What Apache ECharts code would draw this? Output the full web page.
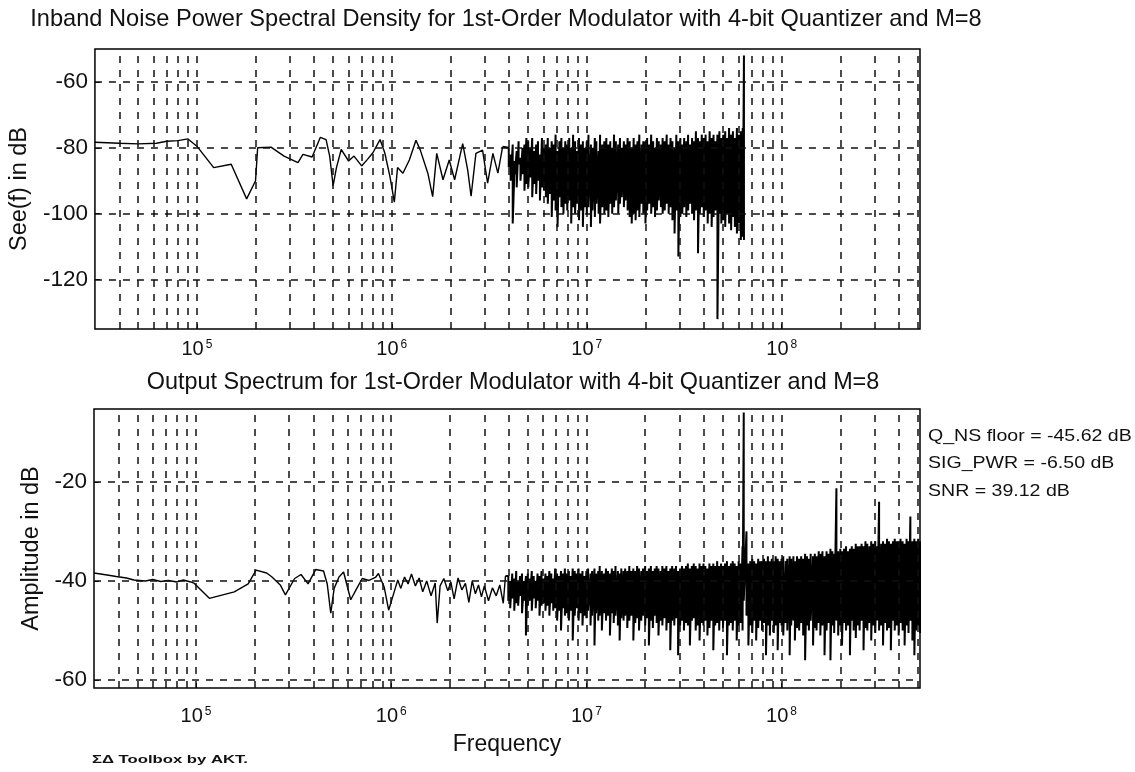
<!DOCTYPE html>
<html>
<head>
<meta charset="utf-8">
<title>Sigma-Delta spectra</title>
<script src="https://cdn.jsdelivr.net/npm/echarts@6/dist/echarts.min.js"></script>
<style>
  html, body { margin: 0; padding: 0; background: #fff; }
  #main { width: 1135px; height: 772px; }
</style>
</head>
<body>
<div id="main"></div>
<script>
// ---- data ----
// low-frequency part of the inband PSD (Hz, dB)
const topSparseHz = [3.0e4,4.0e4,5.0e4,6.2e4,7.0e4,8.0e4,9.0e4,1.0e5,1.22e5,1.5e5,1.8e5,2.0e5,2.05e5,2.4e5,2.8e5,3.3e5,3.5e5,3.9e5,4.3e5,4.6e5,4.8e5,5.0e5,5.2e5,5.5e5,6.0e5,6.4e5,7.0e5,7.5e5,8.0e5,8.7e5,9.2e5,9.8e5,1.03e6,1.07e6,1.14e6,1.23e6,1.33e6,1.4e6,1.53e6,1.62e6,1.7e6,1.83e6,1.97e6,2.1e6,2.31e6,2.45e6,2.55e6,2.7e6,2.92e6,3.1e6,3.3e6,3.5e6,3.7e6]
const topSparseDb = [-78.3,-78.6,-78.8,-78.6,-78.0,-77.8,-77.3,-79.5,-86,-85,-95.5,-90,-80,-79.8,-82.5,-84.5,-82,-82.8,-76.8,-77.5,-82.5,-91.5,-86,-80.5,-84,-82.5,-85.5,-83.5,-81.5,-77.5,-81.5,-89,-96.5,-86,-87.7,-83.7,-77.7,-80.7,-87.7,-94.8,-81.7,-89.7,-83.7,-89.7,-78.7,-86.7,-94.7,-81.7,-80.7,-90.7,-81.7,-87.7,-79.7]

// low-frequency part of the output spectrum (Hz, dB)
const botSparseHz = [3.0e4,3.5e4,3.9e4,4.4e4,4.8e4,5.5e4,6.0e4,6.6e4,7.2e4,8.0e4,8.6e4,9.4e4,9.8e4,1.17e5,1.57e5,1.85e5,2.03e5,2.3e5,2.45e5,2.7e5,2.87e5,3.2e5,3.45e5,3.75e5,4.1e5,4.5e5,4.7e5,4.9e5,5.1e5,5.4e5,5.7e5,6.2e5,6.6e5,7.1e5,7.7e5,8.3e5,8.6e5,9.2e5,9.7e5,1.03e6,1.08e6,1.12e6,1.17e6,1.22e6,1.27e6,1.33e6,1.39e6,1.45e6,1.52e6,1.6e6,1.68e6,1.72e6,1.78e6,1.86e6,1.95e6,2.02e6,2.1e6,2.2e6,2.3e6,2.4e6,2.5e6,2.6e6,2.7e6,2.8e6,2.9e6,3.0e6,3.15e6,3.3e6,3.45e6,3.6e6,3.75e6,3.85e6]
const botSparseDb = [-38.4,-38.8,-39.1,-39.4,-39.8,-40.0,-39.7,-40.1,-39.9,-40.2,-39.8,-40.2,-40.5,-43.5,-42.2,-40.6,-37.8,-38.4,-39.2,-40.8,-42.8,-39.5,-38.7,-40.6,-37.7,-38.0,-40.6,-46.5,-41.5,-39.2,-38.2,-43.8,-41.8,-39.5,-39.9,-39.3,-38.5,-41.2,-45.9,-42.5,-39.8,-41.5,-39.2,-40.6,-38.6,-41.0,-39.4,-42.2,-40.0,-43.0,-40.4,-48.5,-41.0,-39.5,-42.0,-40.2,-43.6,-39.4,-41.8,-40.5,-44.3,-40.0,-42.6,-40.8,-43.2,-41.0,-44.0,-41.4,-43.0,-40.8,-44.5,-39.0]

// dense part: frequency bins (MHz) with the high / low excursion at each bin
const fineMHz = [
  3.98,4.07,4.17,4.27,4.37,4.47,4.57,4.68,4.79,4.90,
  5.01,5.13,5.25,5.37,5.50,5.62,5.75,5.89,6.03,6.17,
  6.31,6.46,6.61,6.76,6.92,7.08,7.24,7.41,7.59,7.76,
  7.94,8.13,8.32,8.51,8.71,8.91,9.12,9.33,9.55,9.77,
  10.0,10.2,10.5,10.7,11.0,11.2,11.5,11.7,12.0,12.3,
  12.6,12.9,13.2,13.5,13.8,14.1,14.5,14.8,15.1,15.5,
  15.8,16.2,16.6,17.0,17.4,17.8,18.2,18.6,19.1,19.5,
  20.0,20.4,20.9,21.4,21.9,22.4,22.9,23.4,24.0,24.5,
  25.1,25.7,26.3,26.9,27.5,28.2,28.8,29.5,30.2,30.9,
  31.6,32.4,33.1,33.9,34.7,35.5,36.3,37.2,38.0,38.9,
  39.8,40.7,41.7,42.7,43.7,44.7,45.7,46.8,47.9,49.0,
  50.1,51.3,52.5,53.7,55.0,56.2,57.5,58.9,60.3,61.7,
  63.1,64.0,66.1,67.6,69.2,70.8,72.4,74.1,75.9,77.6,
  79.4,81.3,83.2,85.1,87.1,89.1,91.2,93.3,95.5,97.7,
  100,102,105,107,110,112,115,117,120,123,
  126,129,132,135,138,141,145,148,151,155,
  158,162,166,170,174,178,182,186,191,195,
  200,204,209,214,219,224,229,234,240,245,
  251,257,263,269,275,282,288,295,302,309,
  316,324,331,339,347,355,363,372,380,389,
  398,407,417,427,437,447,457,468,479,490,
  501,512
]

// inband PSD, bins 0..121 (ends at 64 MHz)
const seeHi = [
  -80,-82,-79,-84,-81,-78,-83,-80,-79,-77,
  -78,-80,-77,-81,-79,-78,-82,-77,-80,-79,
  -77,-80,-78,-79,-76,-81,-78,-77,-80,-78,
  -79,-77,-80,-76,-78,-81,-77,-79,-78,-80,
  -78,-76,-79,-80,-77,-78,-81,-76,-79,-78,
  -77,-79,-78,-80,-76,-78,-79,-77,-80,-78,
  -79,-77,-78,-80,-77,-79,-78,-76,-79,-78,
  -78,-77,-79,-76,-78,-80,-77,-78,-79,-77,
  -78,-76,-79,-77,-78,-80,-76,-78,-77,-79,
  -77,-78,-76,-79,-77,-78,-75,-77,-78,-76,
  -77,-76,-78,-75,-77,-76,-78,-76,-75,-77,
  -76,-75,-77,-74,-76,-75,-77,-74,-76,-75,
  -74,-52
]
const seeLo = [
  -86,-90,-103,-88,-92,-85,-90,-88,-93,-91,
  -92,-89,-95,-91,-94,-90,-96,-92,-93,-95,
  -97,-94,-101,-96,-99,-104,-95,-98,-100,-97,
  -99,-96,-103,-98,-100,-97,-102,-99,-104,-98,
  -100,-98,-104,-99,-101,-97,-100,-103,-98,-100,
  -99,-101,-97,-100,-98,-96,-100,-97,-95,-98,
  -96,-99,-101,-103,-100,-102,-99,-101,-97,-100,
  -103,-99,-97,-100,-98,-101,-99,-96,-98,-100,
  -99,-97,-100,-98,-102,-106,-99,-113,-101,-100,
  -98,-101,-99,-97,-100,-102,-99,-112,-100,-98,
  -101,-99,-103,-100,-104,-101,-99,-132,-100,-103,
  -102,-104,-100,-103,-105,-101,-104,-106,-103,-108,
  -107,-108
]

// output spectrum, bins 0..211
const ampHi = [
  -39,-40,-38.5,-39.5,-38,-40,-39,-38.5,-40,-39,
  -38.5,-39.5,-38,-39,-40,-38.5,-39,-38,-39.5,-38.5,
  -39,-38,-38.5,-39.5,-37.5,-38.5,-39,-38,-38.5,-37.5,
  -38.5,-38,-39,-37.5,-38,-38.5,-37.5,-38.5,-38,-39,
  -38,-37.5,-38.5,-38,-37.5,-38.5,-38,-37,-38,-38.5,
  -37.5,-38,-38.5,-37.5,-38,-37,-38,-38.5,-37.5,-38,
  -37.5,-38,-37,-38,-37.5,-38,-37,-37.5,-38,-37.5,
  -37,-38,-37.5,-37,-38,-37.5,-37,-37.5,-38,-37,
  -37.5,-37,-38,-37.5,-37,-37.5,-37,-38,-37.5,-37,
  -37.5,-37,-36.5,-37.5,-37,-36.5,-37,-37.5,-36.5,-37,
  -36.5,-37,-37.5,-36.5,-37,-36.5,-37,-36,-37,-36.5,
  -37,-36.5,-36,-37,-36.5,-36,-36.5,-37,-36,-36.5,
  -33,-6,-30,-36.5,-36,-35.5,-36,-36.5,-35.5,-36,
  -36,-35.5,-36,-35,-36,-35.5,-36,-35,-35.5,-36,
  -35.5,-35,-36,-35.5,-35,-35.5,-35,-36,-35,-35.5,
  -35,-35.5,-34.5,-35,-35.5,-34.5,-35,-34.5,-35,-34,
  -34.5,-34,-35,-34,-34.5,-33.5,-34,-34.5,-21.3,-34,
  -33.5,-34,-33.5,-33,-34,-33.5,-33,-33.5,-32.5,-33,
  -33,-32.5,-33,-32,-32.5,-33,-32,-32.5,-32,-33,
  -24,-32.5,-32,-32.5,-31.5,-32,-32.5,-32,-31.5,-32,
  -32,-31.5,-32,-32.5,-31.5,-32,-27,-32,-31.5,-32,
  -31.5,-32
]
const ampLo = [
  -44,-45.5,-43.5,-46,-44.5,-45,-43,-46.5,-44,-51,
  -45,-44,-46,-43.5,-45.5,-44,-47,-45,-44.5,-46,
  -45,-47,-44.5,-46,-45.5,-48,-46,-50,-45.5,-47,
  -46.5,-48,-46,-52,-47,-45.5,-48,-46.5,-49,-47,
  -47.5,-46,-49,-47,-53,-46.5,-48,-47,-50,-46.5,
  -48,-47,-51,-46.5,-48.5,-47,-49,-52,-47.5,-48,
  -47,-49.5,-48,-47,-52,-48.5,-47.5,-50,-48,-47,
  -49,-47.5,-53,-48,-49.5,-47,-48.5,-51,-48,-49,
  -47.5,-50,-48.5,-54,-48,-49,-47.5,-55,-49,-48,
  -50,-48.5,-49,-53,-48,-47.5,-50,-49,-52,-48.5,
  -49,-48,-51,-49.5,-48,-54,-49,-48.5,-50,-48,
  -49.5,-48,-55,-49,-48.5,-50,-48,-52,-49,-48.5,
  -50,-44,-47,-53,-49,-50.5,-48,-52,-49.5,-48,
  -50,-48.5,-55,-49,-51,-48,-50.5,-49,-54,-48.5,
  -49,-51,-48.5,-50,-55,-49,-48,-52,-49.5,-50,
  -48.5,-51,-56,-49,-50,-48,-53,-49.5,-50,-48.5,
  -51,-49,-55,-50,-48.5,-56,-49,-50.5,-48,-51,
  -49,-53,-48.5,-50,-49,-55,-48,-50,-51.5,-49,
  -50,-48,-54,-49.5,-50,-48.5,-52,-49,-50.5,-48,
  -50,-49,-53,-48.5,-50,-49.5,-54,-48,-50,-49,
  -51,-48.5,-50,-53,-49,-50.5,-48,-52,-55,-50,
  -49,-50.5
]

// axis ticks and grid positions
const decadeTicks = [1e5, 1e6, 1e7, 1e8]
const gridHz = [4e4,5e4,6e4,7e4,8e4,9e4,1e5,2e5,3e5,4e5,5e5,6e5,7e5,8e5,9e5,
  1e6,2e6,3e6,4e6,5e6,6e6,7e6,8e6,9e6,1e7,2e7,3e7,4e7,5e7,6e7,7e7,8e7,9e7,
  1e8,2e8,3e8,4e8,5e8]
const topDbTicks = [-120, -100, -80, -60]
const botDbTicks = [-60, -40, -20]

const notes = ['Q_NS floor = -45.62 dB', 'SIG_PWR = -6.50 dB', 'SNR = 39.12 dB']

// ---- build series data ----
function sparseTrace(hz, db) {
  const out = []
  for (let i = 0; i < hz.length; i++) out.push([hz[i], db[i]])
  return out
}
// each dense bin is drawn as its high then its low value
function denseTrace(hi, lo) {
  const out = []
  for (let i = 0; i < hi.length; i++) {
    const hz = fineMHz[i] * 1e6
    out.push([hz, hi[i]])
    out.push([hz, lo[i]])
  }
  return out
}
const seeSparse = sparseTrace(topSparseHz, topSparseDb)
const seeDense = [seeSparse[seeSparse.length - 1]].concat(denseTrace(seeHi, seeLo))
const ampSparse = sparseTrace(botSparseHz, botSparseDb)
const ampDense = [ampSparse[ampSparse.length - 1]].concat(denseTrace(ampHi, ampLo))

const FONT = '"Liberation Sans", Arial, sans-serif'
const INK = '#111'
const dashStyle = { type: [7, 7], color: '#111', width: 1.5 }

function xAxisCfg(gridIndex, margin, extra) {
  return Object.assign({
    type: 'log',
    logBase: 10,
    gridIndex: gridIndex,
    min: 3e4,
    max: 5.12e8,
    axisLine: { show: false },
    axisTick: { show: true, inside: true, length: 5, customValues: decadeTicks, lineStyle: { color: '#000' } },
    splitLine: { show: false },
    axisLabel: {
      customValues: decadeTicks,
      margin: margin,
      color: INK,
      formatter: function (v) {
        return '{b|10}{e|' + Math.round(Math.log10(v)) + '}'
      },
      rich: {
        b: { fontSize: 20, fontFamily: FONT, color: INK, verticalAlign: 'bottom' },
        e: { fontSize: 12, fontFamily: FONT, color: INK, verticalAlign: 'top', padding: [0, 0, 4, 2] }
      }
    }
  }, extra || {})
}

function yAxisCfg(gridIndex, min, max, ticks, name, nameGap) {
  return {
    type: 'value',
    gridIndex: gridIndex,
    min: min,
    max: max,
    name: name,
    nameLocation: 'middle',
    nameRotate: 90,
    nameGap: nameGap,
    nameTextStyle: { fontSize: 23.5, fontFamily: FONT, color: INK },
    axisLine: { show: false },
    axisTick: { show: true, inside: true, length: 5, customValues: ticks, lineStyle: { color: '#000' } },
    splitLine: { show: false },
    axisLabel: { customValues: ticks, margin: 7, fontSize: 22.5, fontFamily: FONT, color: INK }
  }
}

function gridLines(xi, yi, dbTicks) {
  return {
    type: 'line',
    xAxisIndex: xi,
    yAxisIndex: yi,
    data: [],
    silent: true,
    z: 1,
    markLine: {
      silent: true,
      symbol: ['none', 'none'],
      label: { show: false },
      lineStyle: dashStyle,
      emphasis: { disabled: true },
      animation: false,
      data: gridHz.map(v => ({ xAxis: v })).concat(dbTicks.map(v => ({ yAxis: v })))
    }
  }
}

function traceSeries(name, xi, data, width) {
  return {
    name: name,
    type: 'line',
    xAxisIndex: xi,
    yAxisIndex: xi,
    data: data,
    symbol: 'none',
    z: 3,
    lineStyle: { color: '#000', width: width },
    emphasis: { disabled: true }
  }
}

const chart = echarts.init(document.getElementById('main'), null, { renderer: 'canvas' })
const option = {
  backgroundColor: '#fff',
  animation: false,
  textStyle: { fontFamily: FONT },
  grid: [
    { left: 94, top: 49, width: 826, height: 280, show: true, borderColor: '#000', borderWidth: 1.5, backgroundColor: '#fff' },
    { left: 94, top: 409, width: 826, height: 279, show: true, borderColor: '#000', borderWidth: 1.5, backgroundColor: '#fff' }
  ],
  xAxis: [
    xAxisCfg(0, 10),
    xAxisCfg(1, 18, {
      name: 'Frequency',
      nameLocation: 'middle',
      nameGap: 45,
      nameTextStyle: { fontSize: 23, fontFamily: FONT, color: INK }
    })
  ],
  yAxis: [
    yAxisCfg(0, -135, -50, topDbTicks, 'See(f) in dB', 57),
    yAxisCfg(1, -61.6, -5.3, botDbTicks, 'Amplitude in dB', 47)
  ],
  series: [
    gridLines(0, 0, topDbTicks),
    gridLines(1, 1, botDbTicks),
    traceSeries('See(f)', 0, seeSparse, 1.4),
    traceSeries('See(f) dense', 0, seeDense, 2),
    traceSeries('Amplitude', 1, ampSparse, 1.4),
    traceSeries('Amplitude dense', 1, ampDense, 2)
  ],
  graphic: [
    {
      type: 'text', x: 506, y: 19,
      style: { text: 'Inband Noise Power Spectral Density for 1st-Order Modulator with 4-bit Quantizer and M=8',
        fontSize: 23.6, fontFamily: FONT, fill: INK, align: 'center', verticalAlign: 'middle' }
    },
    {
      type: 'text', x: 513, y: 383,
      style: { text: 'Output Spectrum for 1st-Order Modulator with 4-bit Quantizer and M=8',
        fontSize: 23.4, fontFamily: FONT, fill: INK, align: 'center', verticalAlign: 'middle' }
    },
    {
      type: 'text', x: 92, y: 760, scaleX: 1.45,
      style: { text: 'ΣΔ Toolbox by AKT.', fontSize: 11.5, fontWeight: 'bold', fontFamily: FONT, fill: INK, align: 'left', verticalAlign: 'middle' }
    }
  ].concat(notes.map((t, i) => ({
    type: 'text', x: 928, y: 436 + i * 27.5, scaleX: 1.15,
    style: { text: t, fontSize: 17, fontFamily: FONT, fill: INK, align: 'left', verticalAlign: 'middle' }
  })))
}
chart.setOption(option)
</script>
</body>
</html>
